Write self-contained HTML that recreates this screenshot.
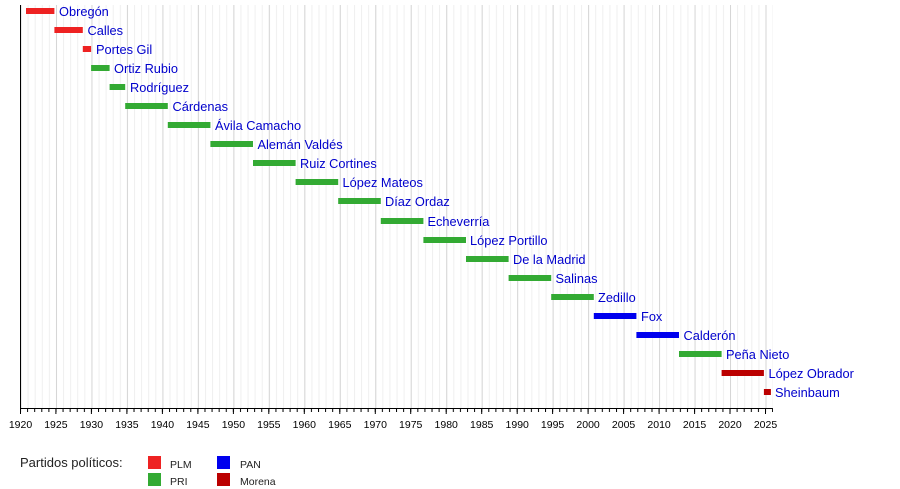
<!DOCTYPE html>
<html><head><meta charset="utf-8"><style>
body{margin:0;background:#fff}
svg{display:block;font-family:"Liberation Sans",sans-serif}
.l{fill:#0000cc;font-size:12.8px}
.t{font-size:10.5px;fill:#000;text-anchor:middle}
</style></head><body>
<svg width="900" height="489" viewBox="0 0 900 489">
<defs>
<pattern id="g1" x="20.5" y="0" width="7.0952" height="10" patternUnits="userSpaceOnUse"><rect x="0" y="0" width="1" height="10" fill="#efefef"/></pattern>
<pattern id="g5" x="20.5" y="0" width="35.476" height="10" patternUnits="userSpaceOnUse"><rect x="0" y="0" width="1" height="10" fill="#d6d6d6"/></pattern>
<pattern id="t1" x="20" y="0" width="7.0952" height="10" patternUnits="userSpaceOnUse"><rect x="0" y="0" width="1" height="10" fill="#000"/></pattern>
</defs>
<rect x="20" y="5" width="753" height="403" fill="url(#g1)"/>
<rect x="20" y="5" width="753" height="403" fill="url(#g5)"/>
<rect x="20" y="408" width="753" height="4" fill="url(#t1)"/>
<line x1="20.5" y1="5" x2="20.5" y2="409" stroke="#000"/>
<line x1="20" y1="408.5" x2="772" y2="408.5" stroke="#000"/>
<g stroke="#000">
<line x1="20.5" y1="408" x2="20.5" y2="414"/><line x1="55.9" y1="408" x2="55.9" y2="414"/><line x1="91.4" y1="408" x2="91.4" y2="414"/><line x1="126.9" y1="408" x2="126.9" y2="414"/><line x1="162.4" y1="408" x2="162.4" y2="414"/><line x1="197.9" y1="408" x2="197.9" y2="414"/><line x1="233.4" y1="408" x2="233.4" y2="414"/><line x1="268.8" y1="408" x2="268.8" y2="414"/><line x1="304.3" y1="408" x2="304.3" y2="414"/><line x1="339.8" y1="408" x2="339.8" y2="414"/><line x1="375.3" y1="408" x2="375.3" y2="414"/><line x1="410.7" y1="408" x2="410.7" y2="414"/><line x1="446.2" y1="408" x2="446.2" y2="414"/><line x1="481.7" y1="408" x2="481.7" y2="414"/><line x1="517.2" y1="408" x2="517.2" y2="414"/><line x1="552.6" y1="408" x2="552.6" y2="414"/><line x1="588.1" y1="408" x2="588.1" y2="414"/><line x1="623.6" y1="408" x2="623.6" y2="414"/><line x1="659.1" y1="408" x2="659.1" y2="414"/><line x1="694.6" y1="408" x2="694.6" y2="414"/><line x1="730.0" y1="408" x2="730.0" y2="414"/><line x1="765.5" y1="408" x2="765.5" y2="414"/>
</g>
<g class="t">
<text x="20.5" y="428">1920</text><text x="55.9" y="428">1925</text><text x="91.4" y="428">1930</text><text x="126.9" y="428">1935</text><text x="162.4" y="428">1940</text><text x="197.9" y="428">1945</text><text x="233.4" y="428">1950</text><text x="268.8" y="428">1955</text><text x="304.3" y="428">1960</text><text x="339.8" y="428">1965</text><text x="375.3" y="428">1970</text><text x="410.7" y="428">1975</text><text x="446.2" y="428">1980</text><text x="481.7" y="428">1985</text><text x="517.2" y="428">1990</text><text x="552.6" y="428">1995</text><text x="588.1" y="428">2000</text><text x="623.6" y="428">2005</text><text x="659.1" y="428">2010</text><text x="694.6" y="428">2015</text><text x="730.0" y="428">2020</text><text x="765.5" y="428">2025</text>
</g>
<g>
<rect x="26" y="8" width="28.4" height="6" fill="#ee2222"/>
<rect x="54.4" y="27" width="28.4" height="6" fill="#ee2222"/>
<rect x="82.8" y="46" width="8.3" height="6" fill="#ee2222"/>
<rect x="91.1" y="65" width="18.5" height="6" fill="#33aa33"/>
<rect x="109.6" y="84" width="15.6" height="6" fill="#33aa33"/>
<rect x="125.2" y="103" width="42.6" height="6" fill="#33aa33"/>
<rect x="167.8" y="122" width="42.6" height="6" fill="#33aa33"/>
<rect x="210.4" y="141" width="42.6" height="6" fill="#33aa33"/>
<rect x="253" y="160" width="42.6" height="6" fill="#33aa33"/>
<rect x="295.6" y="179" width="42.6" height="6" fill="#33aa33"/>
<rect x="338.2" y="198" width="42.6" height="6" fill="#33aa33"/>
<rect x="380.8" y="218" width="42.6" height="6" fill="#33aa33"/>
<rect x="423.4" y="237" width="42.6" height="6" fill="#33aa33"/>
<rect x="466" y="256" width="42.6" height="6" fill="#33aa33"/>
<rect x="508.6" y="275" width="42.6" height="6" fill="#33aa33"/>
<rect x="551.2" y="294" width="42.6" height="6" fill="#33aa33"/>
<rect x="593.8" y="313" width="42.6" height="6" fill="#0000ee"/>
<rect x="636.4" y="332" width="42.6" height="6" fill="#0000ee"/>
<rect x="679" y="351" width="42.6" height="6" fill="#33aa33"/>
<rect x="721.6" y="370" width="42.3" height="6" fill="#bb0000"/>
<rect x="763.9" y="389" width="7" height="6" fill="#bb0000"/>
</g>
<g class="l">
<text x="59" y="16">Obregón</text>
<text x="87.5" y="35">Calles</text>
<text x="96" y="54">Portes Gil</text>
<text x="114" y="73">Ortiz Rubio</text>
<text x="130" y="92">Rodríguez</text>
<text x="172.5" y="111">Cárdenas</text>
<text x="215" y="130">Ávila Camacho</text>
<text x="257.5" y="149">Alemán Valdés</text>
<text x="300" y="168">Ruiz Cortines</text>
<text x="342.5" y="187">López Mateos</text>
<text x="385" y="206">Díaz Ordaz</text>
<text x="427.5" y="226">Echeverría</text>
<text x="470" y="245">López Portillo</text>
<text x="513" y="264">De la Madrid</text>
<text x="555.5" y="283">Salinas</text>
<text x="598" y="302">Zedillo</text>
<text x="641" y="321">Fox</text>
<text x="683.5" y="340">Calderón</text>
<text x="726" y="359">Peña Nieto</text>
<text x="768.5" y="378">López Obrador</text>
<text x="775" y="397">Sheinbaum</text>
</g>
<text x="20" y="467" font-size="13" fill="#222">Partidos políticos:</text>
<rect x="148" y="456" width="13" height="13" fill="#ee2222"/>
<rect x="148" y="473" width="13" height="13" fill="#33aa33"/>
<rect x="217" y="456" width="13" height="13" fill="#0000ee"/>
<rect x="217" y="473" width="13" height="13" fill="#bb0000"/>
<g font-size="10.5" fill="#222">
<text x="170" y="468">PLM</text>
<text x="170" y="485">PRI</text>
<text x="240" y="468">PAN</text>
<text x="240" y="485">Morena</text>
</g>
</svg>
</body></html>
